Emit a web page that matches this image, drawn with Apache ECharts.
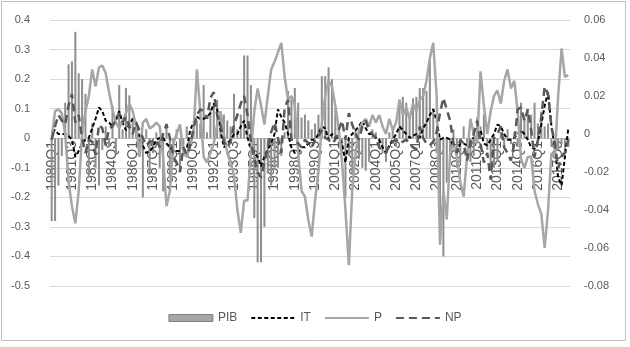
<!DOCTYPE html>
<html>
<head>
<meta charset="utf-8">
<script src="https://cdn.jsdelivr.net/npm/echarts@6/dist/echarts.min.js"></script>
<style>html,body{margin:0;padding:0;background:#fff}#c{width:630px;height:347px}</style>
</head>
<body>
<div id="c"></div>
<script>
// Quarter labels 1980Q1 .. 2018Q2
const categories = [];
for (let y = 1980; y <= 2018; y++) {
  for (let q = 1; q <= 4; q++) {
    if (y === 2018 && q > 2) break;
    categories.push(y + 'Q' + q);
  }
}
const leftTicks = [-0.5, 0.4, 0.1];
const rightTicks = [-0.08, 0.06, 0.02];

// PIB (left axis)
const PIB = [
-0.28,-0.28,-0.16,-0.06,0.12,0.25,0.26,0.36,0.22,0.2,
0.15,-0.13,0.05,-0.1,-0.16,-0.04,0.04,-0.03,0.11,-0.05,
0.18,0.03,0.17,0.145,0.07,0.03,-0.06,-0.2,0.03,-0.12,
-0.05,0.02,-0.1,-0.18,0.05,-0.13,-0.06,0.03,-0.1,-0.05,
0.04,-0.04,0.04,0.06,0.05,0.18,0.02,0.1,0.12,0.13,
0.09,0.08,0.06,0.04,0.15,0.03,0.08,0.28,0.28,0.18,
-0.27,-0.42,-0.42,-0.3,-0.12,-0.16,-0.1,-0.1,-0.06,0.02,
0.16,0.13,0.17,0.12,0.07,0.08,0.06,0.03,0.05,0.08,
0.21,0.21,0.24,0.2,0.1,0.03,-0.05,-0.2,-0.06,-0.12,
0.03,-0.07,-0.1,-0.11,-0.08,0.03,0.02,-0.03,-0.05,-0.08,
0.02,0.04,-0.03,0.13,0.14,0.12,0.08,0.135,0.14,0.17,
0.17,0.16,0.26,0.1,-0.05,-0.36,-0.4,-0.15,-0.05,0.03,
-0.1,-0.08,0.04,-0.03,-0.08,-0.06,0.07,0.04,0.08,-0.04,
-0.1,-0.1,-0.08,0.02,-0.03,0.03,-0.02,0.02,-0.03,0.12,
0.07,0.095,0.08,0.12,0.05,0.09,0.04,0.05,-0.03,-0.06,
-0.04,-0.02,-0.05,-0.03
];

// IT (right axis)
const IT = [
0.001,0.002,0.0,0.0,0.0,-0.001,-0.003,-0.012,-0.009,-0.005,
-0.003,-0.002,0.003,0.008,0.014,0.012,0.007,0.006,0.004,0.007,
0.012,0.006,0.002,0.005,0.008,0.006,-0.002,-0.006,-0.01,-0.009,
-0.007,-0.003,-0.002,-0.002,-0.005,-0.007,-0.009,-0.009,-0.009,-0.009,
-0.008,0.002,0.006,0.009,0.008,0.008,0.009,0.011,0.016,0.013,
0.002,-0.007,-0.005,-0.003,0.0,0.0,0.004,0.007,-0.002,-0.007,
-0.01,-0.012,-0.017,-0.012,-0.008,-0.005,0.0,0.013,0.009,0.006,
0.0,-0.007,-0.01,-0.01,-0.007,-0.007,-0.005,-0.003,-0.003,0.0,
0.004,0.003,-0.003,0.0,-0.002,-0.002,-0.005,-0.015,-0.002,0.0,
0.002,0.004,0.007,0.003,0.0,0.0,-0.002,-0.003,-0.007,-0.01,
-0.006,-0.003,0.0,0.004,0.002,0.0,-0.002,-0.001,0.0,-0.002,
0.003,0.006,0.01,0.013,0.007,-0.003,-0.002,-0.002,-0.003,-0.006,
-0.01,-0.005,-0.005,-0.006,-0.003,-0.002,-0.001,0.002,-0.005,-0.006,
-0.003,0.0,0.005,0.004,0.0,-0.003,-0.003,-0.002,0.0,0.002,
0.0,-0.003,-0.007,-0.008,-0.004,0.005,0.015,0.022,0.004,-0.007,
-0.023,-0.027,-0.012,0.003
];

// P (right axis)
const P = [
-0.002,0.012,0.013,0.011,0.0,-0.025,-0.038,-0.047,-0.03,0.0,
0.012,0.02,0.034,0.025,0.035,0.036,0.032,0.022,0.013,0.006,
0.003,0.007,0.011,0.016,0.012,0.004,-0.012,0.006,0.008,0.003,
0.004,0.006,0.004,-0.012,-0.038,-0.03,-0.005,0.0,0.005,-0.01,
-0.012,-0.006,0.0,0.034,0.012,-0.012,-0.015,-0.01,-0.005,0.005,
0.012,0.0,-0.01,-0.015,-0.022,-0.04,-0.052,-0.035,-0.035,-0.01,
0.012,0.024,0.015,0.005,0.02,0.034,0.038,0.043,0.048,0.03,
0.018,0.02,0.015,-0.01,-0.03,-0.033,-0.045,-0.054,-0.035,-0.02,
0.005,0.02,0.028,0.025,0.015,0.003,-0.015,-0.04,-0.069,-0.03,
-0.01,0.002,0.006,0.008,0.004,0.01,0.006,0.01,0.004,0.0,
0.008,0.002,0.006,0.018,0.01,0.014,0.008,0.016,0.012,0.018,
0.02,0.028,0.04,0.048,0.02,-0.058,-0.03,-0.045,-0.01,-0.005,
-0.012,-0.025,-0.033,-0.012,0.008,0.0,-0.005,0.033,0.015,0.0,
0.012,0.02,0.023,0.016,0.028,0.034,0.024,0.028,0.012,-0.013,
-0.018,-0.012,-0.012,-0.03,-0.037,-0.042,-0.06,-0.04,-0.01,-0.012,
0.02,0.045,0.03,0.031
];

// NP (right axis)
const NP = [
-0.003,0.004,0.01,0.007,0.005,0.015,0.021,0.006,0.01,-0.002,
-0.01,-0.003,-0.004,-0.011,0.005,0.003,-0.006,0.003,0.004,0.008,
0.011,0.006,0.009,0.004,0.0,0.006,0.002,-0.002,-0.006,-0.004,
-0.004,-0.003,-0.007,0.0,0.005,-0.002,-0.012,-0.015,-0.02,-0.007,
-0.011,-0.006,0.003,0.01,0.013,0.012,0.008,0.019,0.022,0.01,
0.005,-0.004,-0.007,-0.004,0.005,0.01,0.016,0.02,0.01,-0.004,
-0.013,-0.02,-0.023,-0.015,-0.007,0.001,0.006,-0.002,-0.01,0.014,
0.018,-0.003,-0.003,-0.005,-0.007,-0.003,-0.005,-0.007,-0.003,-0.001,
0.002,-0.002,-0.003,-0.005,-0.003,0.002,0.007,-0.003,0.011,0.005,
0.0,-0.003,0.004,0.007,0.002,0.0,-0.002,-0.007,-0.009,-0.01,
-0.006,-0.004,-0.003,-0.005,-0.004,-0.003,-0.005,-0.007,-0.008,0.004,
-0.002,-0.005,-0.006,-0.004,0.001,0.011,0.019,0.013,0.007,-0.005,
-0.01,-0.003,-0.005,-0.014,-0.005,0.0,0.007,-0.005,-0.015,-0.01,
-0.024,-0.002,0.0,0.004,-0.007,-0.01,-0.014,-0.005,0.013,0.014,
0.007,0.013,0.002,-0.012,-0.003,0.009,0.025,0.021,0.004,-0.005,
-0.018,-0.012,-0.01,-0.003
];

const labelColor = '#595959';
const chart = echarts.init(document.getElementById('c'), null, {renderer: 'canvas'});
chart.setOption({
  animation: false,
  backgroundColor: '#ffffff',
  grid: {left: 50, right: 60, top: 20, bottom: 61, containLabel: false},
  graphic: [{
    type: 'rect', silent: true, z: -1,
    shape: {x: 1.5, y: 1.5, width: 624, height: 339},
    style: {fill: 'none', stroke: '#bfbfbf', lineWidth: 1}
  }],
  legend: {
    bottom: 18, left: 'center',
    itemWidth: 44, itemHeight: 7, itemGap: 13,
    textStyle: {color: labelColor, fontSize: 12, fontFamily: 'Liberation Sans'},
    data: [
      {name: 'PIB', icon: 'rect', itemStyle: {color: '#a6a6a6', borderColor: '#808080', borderWidth: 1}},
      {name: 'IT', itemStyle: {opacity: 0}},
      {name: 'P', itemStyle: {opacity: 0}},
      {name: 'NP', itemStyle: {opacity: 0}}
    ]
  },
  xAxis: {
    type: 'category', data: categories, boundaryGap: true,
    position: 'bottom', offset: -148,
    axisLine: {show: true, onZero: false, lineStyle: {color: '#bfbfbf', width: 1}},
    axisTick: {show: false},
    axisLabel: {interval: 5, rotate: 90, margin: 3, color: labelColor, fontSize: 14, fontFamily: 'Liberation Sans'},
    splitLine: {show: false}
  },
  yAxis: [{
    type: 'value', min: leftTicks[0], max: leftTicks[1], interval: leftTicks[2],
    axisLine: {show: false}, axisTick: {show: false},
    axisLabel: {margin: 20, color: labelColor, fontSize: 11, fontFamily: 'Liberation Sans',
      formatter: v => (Math.round(v * 10) / 10).toString()},
    splitLine: {show: true, lineStyle: {color: '#d9d9d9', width: 1}}
  }, {
    type: 'value', min: rightTicks[0], max: rightTicks[1], interval: rightTicks[2],
    axisLine: {show: false}, axisTick: {show: false},
    axisLabel: {margin: 14, color: labelColor, fontSize: 11, fontFamily: 'Liberation Sans',
      formatter: v => (Math.round(v * 100) / 100).toString()},
    splitLine: {show: false}
  }],
  series: [{
    name: 'PIB', type: 'bar', yAxisIndex: 0, data: PIB, barWidth: '60%',
    itemStyle: {color: '#8f8f8f'}
  }, {
    name: 'IT', type: 'line', yAxisIndex: 1, data: IT, symbol: 'none',
    lineStyle: {color: '#000000', width: 2, type: [4, 2.5]},
    itemStyle: {color: '#000000'}
  }, {
    name: 'P', type: 'line', yAxisIndex: 1, data: P, symbol: 'none',
    lineStyle: {color: '#a6a6a6', width: 2.5, type: 'solid'},
    itemStyle: {color: '#a6a6a6'}
  }, {
    name: 'NP', type: 'line', yAxisIndex: 1, data: NP, symbol: 'none',
    lineStyle: {color: '#595959', width: 2.5, type: [8, 5]},
    itemStyle: {color: '#595959'}
  }]
});
</script>
</body>
</html>
